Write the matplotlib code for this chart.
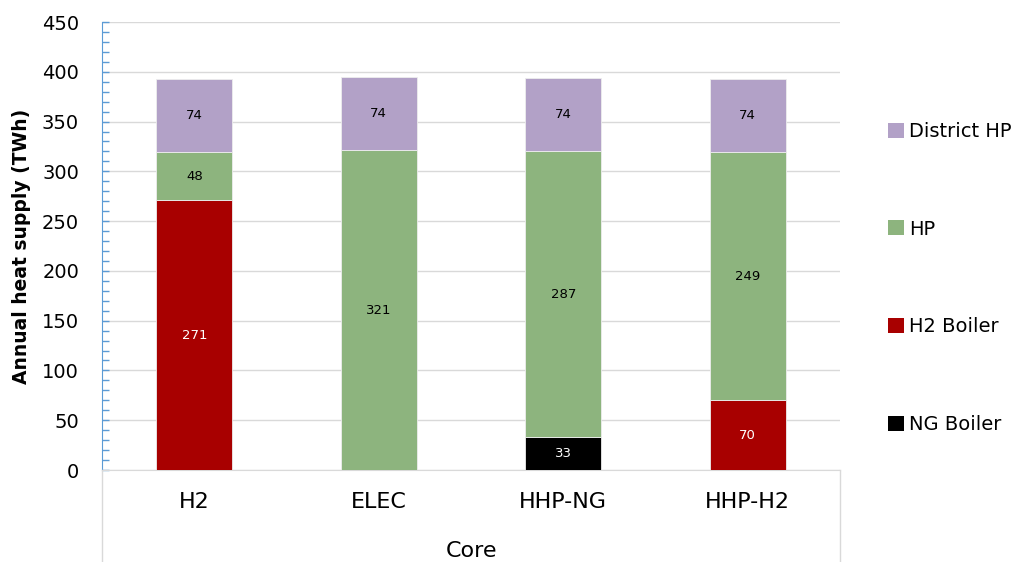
import matplotlib
matplotlib.use("Agg")
import matplotlib.pyplot as plt
from matplotlib.lines import Line2D
from matplotlib.patches import Patch
from matplotlib.ticker import MultipleLocator
import numpy as np

plt.rcParams['font.family'] = ['DejaVu Sans']

scenarios = ["H2", "ELEC", "HHP-NG", "HHP-H2"]
ng_boiler = [0, 0, 33, 0]
h2_boiler = [271, 0, 0, 70]
hp = [48, 321, 287, 249]
district_hp = [74, 74, 74, 74]

series = [
    ("NG Boiler", ng_boiler, "#000000", "white"),
    ("H2 Boiler", h2_boiler, "#A80000", "white"),
    ("HP", hp, "#8DB47E", "black"),
    ("District HP", district_hp, "#B2A1C7", "black"),
]

fig = plt.figure(figsize=(10.13, 5.62), dpi=100)
x0, x1 = 102 / 1013, 840 / 1013
yb, yt = 1 - 470 / 562, 1 - 22 / 562
ax = fig.add_axes([x0, yb, x1 - x0, yt - yb])

pos = np.arange(len(scenarios)) + 0.5
width = 0.41
bottom = np.zeros(len(scenarios))
for name, vals, color, tcolor in series:
    vals = np.array(vals, dtype=float)
    ax.bar(pos, vals, width, bottom=bottom, color=color, edgecolor="#EDEDED",
           linewidth=0.6, label=name, zorder=3)
    for p, b, v in zip(pos, bottom, vals):
        if v > 0:
            ax.text(p, b + v / 2, f"{v:.0f}", ha="center", va="center",
                    fontsize=9.5, color=tcolor, zorder=4)
    bottom += vals

ax.set_xlim(0, len(scenarios))
ax.set_ylim(0, 450)
ax.yaxis.set_major_locator(MultipleLocator(50))
ax.yaxis.set_minor_locator(MultipleLocator(10))
ax.grid(axis="y", color="#D9D9D9", linewidth=1.0, zorder=0)
ax.set_axisbelow(True)

ax.set_xticks(pos)
ax.set_xticklabels(scenarios, fontsize=16)
ax.tick_params(axis="x", length=0, pad=16)
ax.tick_params(axis="y", which="both", direction="in", color="#5B9BD5",
               length=5, width=1, labelsize=14, pad=16.5)

for s in ["top", "right"]:
    ax.spines[s].set_visible(False)
ax.spines["left"].set_color("#5B9BD5")
ax.spines["bottom"].set_color("#D9D9D9")

ax.set_ylabel("Annual heat supply (TWh)", fontsize=13.5, fontweight="bold", labelpad=8)
ax.set_xlabel("Core", fontsize=16, labelpad=21)

# frame around the category axis area
fig.add_artist(Line2D([x0, x0], [0, yb], transform=fig.transFigure,
                      color="#D9D9D9", linewidth=1.0))
fig.add_artist(Line2D([x1, x1], [0, yb], transform=fig.transFigure,
                      color="#D9D9D9", linewidth=1.0))

handles = [Patch(facecolor=c, edgecolor="none", label=n) for n, _, c, _ in series][::-1]
leg = fig.legend(handles=handles, loc="center left", bbox_to_anchor=(888 / 1013, 1 - 278 / 562),
                 frameon=False, fontsize=14, handlelength=0.8, handleheight=0.8,
                 handletextpad=0.3, labelspacing=4.05, borderaxespad=0, borderpad=0)

fig.savefig("out.png", dpi=100)
